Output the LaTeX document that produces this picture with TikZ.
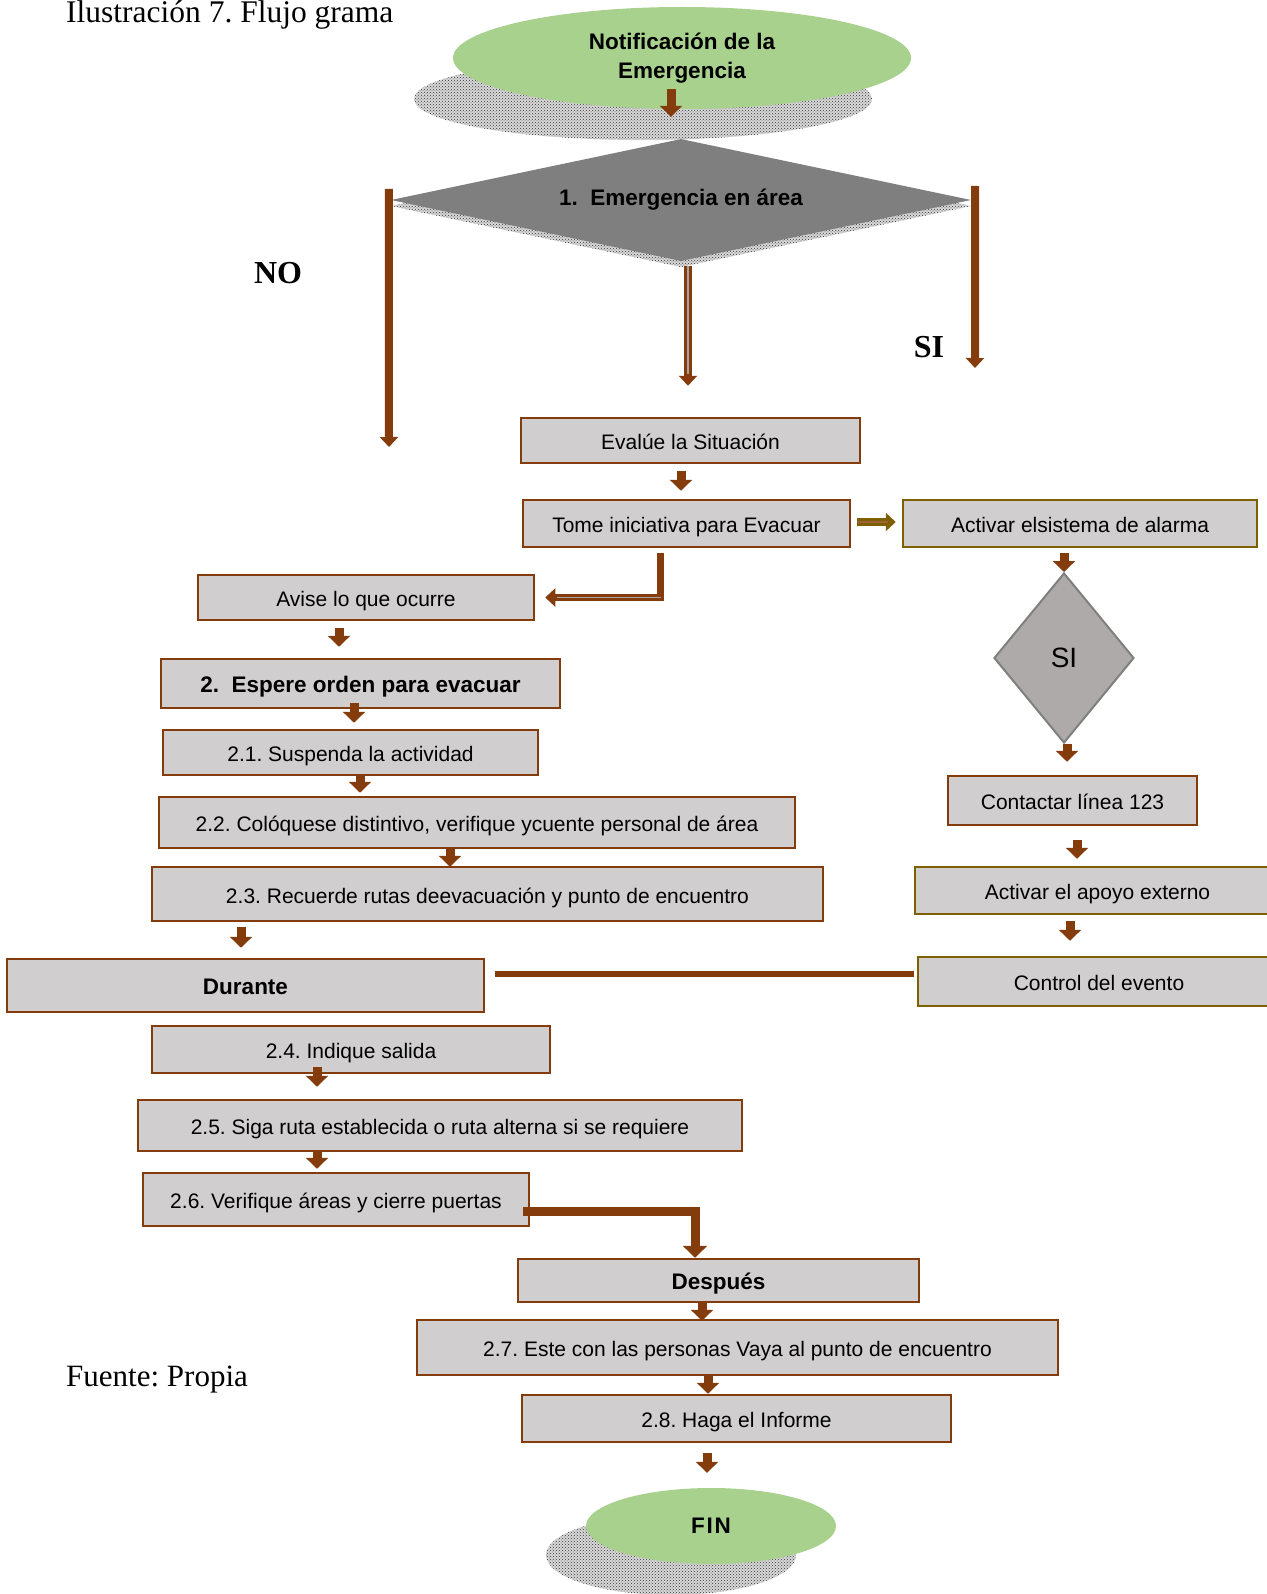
\documentclass[tikz,border=0pt]{standalone}
\usepackage{fontspec}
\setmainfont{Liberation Sans}
\newfontfamily\timesfont{Liberation Serif}
\usepackage{xcolor}
\usetikzlibrary{shapes.geometric, arrows.meta, patterns}
\frenchspacing

\definecolor{brn}{RGB}{132,60,12}
\definecolor{olv}{RGB}{127,96,0}
\definecolor{boxgray}{RGB}{208,206,206}
\definecolor{lgreen}{RGB}{169,209,142}
\definecolor{dkgray}{RGB}{127,127,127}
\definecolor{sigray}{RGB}{174,170,170}

\begin{document}
\begin{tikzpicture}[
  x=1pt, y=-1pt,
  box/.style={rectangle, draw=brn, fill=boxgray, line width=2.5pt, inner sep=0pt, text height=19pt, text depth=1pt, font=\fontsize{21}{25}\selectfont},
  bbox/.style={box, font=\bfseries\fontsize{22.5}{25}\selectfont},
  obox/.style={box, draw=olv},
  term/.style={ellipse, fill=lgreen, inner sep=0pt, align=center, font=\bfseries\fontsize{22.5}{29}\selectfont},
  shadowpat/.style={fill=gray!30, postaction={pattern=crosshatch dots, pattern color=black!80}},
  arrow/.style={-{Triangle[width=22pt,length=11pt]}, draw=brn, line width=9pt},
  longarrow/.style={-{Triangle[width=18pt,length=10pt]}, draw=brn, line width=8pt},
  dbl/.style={postaction={draw=gray!70, line width=1.5pt, -, shorten >=12pt}},
  link/.style={draw=brn, line width=6pt}
]
\useasboundingbox (0,0) rectangle (1266,1594);

% shadows
\fill[shadowpat] (643,99) ellipse [x radius=229pt, y radius=41pt];
\fill[shadowpat] (681,145) -- (971,206) -- (681,267) -- (391,206) -- cycle;
\fill[shadowpat] (671,1555) ellipse [x radius=125pt, y radius=40pt];

% top
\node[term, minimum width=458pt, minimum height=102pt] (notif) at (682,58) {Notificación de la\\Emergencia};
\node[diamond, shape aspect=4.75, fill=dkgray, inner sep=0pt, minimum width=580pt, minimum height=122pt, font=\bfseries\fontsize{22.5}{25}\selectfont] (emerg) at (681,200) {1.\ \ Emergencia en área};

% main column
\node[box, minimum width=339pt, minimum height=45pt] (eval) at (690.5,440.5) {Evalúe la Situación};
\node[box, minimum width=327pt, minimum height=47pt] (tome) at (686.5,523.5) {Tome iniciativa para Evacuar};
\node[box, minimum width=336pt, minimum height=45pt] (avise) at (366,597.5) {Avise lo que ocurre};
\node[bbox, minimum width=399pt, minimum height=49pt] (espere) at (360.5,683.5) {2.\ \ Espere orden para evacuar};
\node[box, minimum width=375pt, minimum height=45pt] (s21) at (350.5,752.5) {2.1. Suspenda la actividad};
\node[box, minimum width=636pt, minimum height=51pt] (s22) at (477,822.5) {2.2. Colóquese distintivo, verifique ycuente personal de área};
\node[box, minimum width=671pt, minimum height=54pt] (s23) at (487.5,894) {2.3. Recuerde rutas deevacuación y punto de encuentro};
\node[bbox, minimum width=477pt, minimum height=53pt] (durante) at (245.5,985.5) {Durante};
\node[box, minimum width=398pt, minimum height=47pt] (s24) at (351,1049.5) {2.4. Indique salida};
\node[box, minimum width=604pt, minimum height=51pt] (s25) at (440,1125.5) {2.5. Siga ruta establecida o ruta alterna si se requiere};
\node[box, minimum width=386pt, minimum height=53pt] (s26) at (336,1199.5) {2.6. Verifique áreas y cierre puertas};
\node[bbox, minimum width=401pt, minimum height=43pt] (despues) at (718.5,1280.5) {Después};
\node[box, minimum width=641pt, minimum height=55pt] (s27) at (737.5,1347.5) {2.7. Este con las personas Vaya al punto de encuentro};
\node[box, minimum width=429pt, minimum height=47pt] (s28) at (736.5,1418.5) {2.8. Haga el Informe};
\node[term, minimum width=250pt, minimum height=76pt] (fin) at (711,1526) {\addfontfeature{LetterSpace=8}FIN};

% right column
\node[obox, minimum width=354pt, minimum height=47pt] (alarm) at (1080,523.5) {Activar elsistema de alarma};
\node[diamond, fill=sigray, draw=dkgray, line width=2pt, inner sep=0pt, minimum width=140pt, minimum height=170pt, font=\fontsize{28}{30}\selectfont] (sidia) at (1064,658) {SI};
\node[box, minimum width=249pt, minimum height=49pt] (contact) at (1072.5,800.5) {Contactar línea 123};
\node[obox, minimum width=365pt, minimum height=47pt] (apoyo) at (1097.5,890.5) {Activar el apoyo externo};
\node[obox, minimum width=362pt, minimum height=49pt] (control) at (1099,981.5) {Control del evento};

% labels
\node[anchor=base west, inner sep=0pt, font=\timesfont\fontsize{31.5}{33}\selectfont] (title) at (66,23) {Ilustración 7. Flujo grama};
\node[font=\timesfont\bfseries\fontsize{32}{34}\selectfont] (nolbl) at (278,273) {NO};
\node[font=\timesfont\bfseries\fontsize{32}{34}\selectfont] (silbl) at (929,347) {SI};
\node[anchor=base west, inner sep=0pt, font=\timesfont\fontsize{31}{33}\selectfont] (src) at (66,1386) {Fuente: Propia};

% decision branches
\coordinate (noend) at (389,447);
\coordinate (siend) at (975,368);
\draw[arrow] ([xshift=-11pt,yshift=20pt]notif.south) -- ([xshift=-10pt,yshift=22pt]emerg.north);
\draw[longarrow] ([xshift=-2pt,yshift=11pt]emerg.west) -- (noend);
\draw[longarrow] ([xshift=4pt,yshift=14pt]emerg.east) -- (siend);
\draw[longarrow, dbl] ([xshift=7pt,yshift=-5pt]emerg.south) -- ([xshift=-2.5pt,yshift=31pt]eval.north);

% arrows
\draw[arrow, shorten <=7pt, shorten >=8pt] ([xshift=-9.5pt]eval.south) -- ([xshift=-5.5pt]tome.north);
\draw[longarrow, draw=olv, shorten <=6pt, shorten >=6pt, postaction={draw=brn!80, line width=1.5pt, -, shorten >=14pt}] ([yshift=1.5pt]tome.east) -- ([yshift=1.5pt]alarm.west);
\draw[longarrow, line width=7pt, postaction={draw=gray!70, line width=1.5pt, -, shorten >=12pt, shorten <=44pt}] ([xshift=-26.5pt,yshift=-5pt]tome.south) |- ([xshift=10pt]avise.east);
\draw[arrow] ([xshift=-16pt,yshift=-5pt]alarm.south) -- (sidia.north);
\draw[arrow] ([xshift=3pt]sidia.south) -- ([xshift=-5.5pt,yshift=13pt]contact.north);
\draw[arrow] ([xshift=4.5pt,yshift=-14pt]contact.south) -- ([xshift=-20.5pt,yshift=7pt]apoyo.north);
\draw[arrow] ([xshift=-27.5pt,yshift=-6pt]apoyo.south) -- ([xshift=-29pt,yshift=15pt]control.north);
\draw[link] ([xshift=-3pt,yshift=7.5pt]control.west) -- ([xshift=10pt,yshift=11.5pt]durante.east);
\draw[arrow] ([xshift=-27pt,yshift=-7pt]avise.south) -- ([xshift=-21.5pt,yshift=11pt]espere.north);
\draw[arrow] ([xshift=-6.5pt,yshift=6pt]espere.south) -- ([xshift=3.5pt,yshift=6pt]s21.north);
\draw[arrow] ([xshift=9.5pt,yshift=2pt]s21.south) -- ([xshift=-117pt,yshift=3pt]s22.north);
\draw[arrow] ([xshift=-27pt,yshift=1pt]s22.south) -- ([xshift=-37.5pt,yshift=-1pt]s23.north);
\draw[arrow] ([xshift=-246.5pt,yshift=-5pt]s23.south) -- ([xshift=-4.5pt,yshift=10pt]durante.north);
\draw[arrow] ([xshift=-34pt,yshift=7pt]s24.south) -- ([xshift=-123pt,yshift=12pt]s25.north);
\draw[arrow] ([xshift=-123pt,yshift=2pt]s25.south) -- ([xshift=-19pt,yshift=3pt]s26.north);
\draw[arrow, -{Triangle[width=24pt,length=12pt]}] ([xshift=-7pt,yshift=-11.5pt]s26.east) -| ([xshift=-23.5pt]despues.north);
\draw[arrow] ([xshift=-16.5pt]despues.south) -- ([xshift=-35.5pt,yshift=-2pt]s27.north);
\draw[arrow] ([xshift=-29.5pt]s27.south) -- ([xshift=-28.5pt]s28.north);
\draw[arrow] ([xshift=-29.5pt,yshift=-10pt]s28.south) -- ([xshift=-4pt,yshift=15pt]fin.north);
\end{tikzpicture}
\end{document}
